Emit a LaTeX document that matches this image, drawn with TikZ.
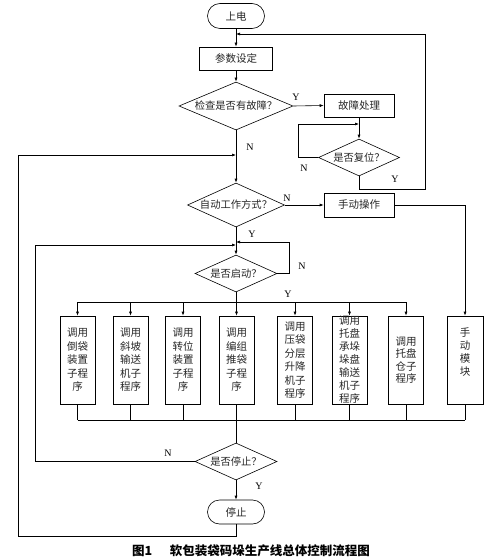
\documentclass[tikz,border=0pt]{standalone}
\usepackage{fontspec}
\setmainfont{Liberation Serif}
\newfontfamily\cjk{Noto Sans CJK SC}
\usetikzlibrary{shapes.geometric,shapes.misc,arrows.meta}
\begin{document}
\begin{tikzpicture}[x=1pt,y=-1pt,
  every path/.style={line width=0.6pt},
  arr/.style={-{Latex[length=4pt,width=3pt]}},
  box/.style={draw, rectangle, inner sep=0pt, text=black!85, font=\cjk\fontsize{10.5}{13.5}\selectfont, align=center},
  vbox/.style={box, minimum width=35pt, minimum height=88pt},
  dia/.style={draw, diamond, inner sep=0pt, text=black!85, font=\cjk\fontsize{10.3}{12}\selectfont},
  term/.style={draw, rounded rectangle, inner sep=0pt, text=black!85, font=\cjk\fontsize{10.5}{12}\selectfont},
  lab/.style={font=\fontsize{10}{12}\selectfont, inner sep=0pt},
]
\useasboundingbox (0,0) rectangle (503,559);
\node[term, minimum width=57pt, minimum height=25pt] (start) at (236,16) {上电};
\node[box, minimum width=73pt, minimum height=23pt] (param) at (236,58.5) {参数设定};
\node[dia, minimum width=114pt, minimum height=48pt, shape aspect=2.375] (chk) at (236,106) {检查是否有故障？};
\node[box, minimum width=70pt, minimum height=23pt] (fault) at (359,105.5) {故障处理};
\node[dia, minimum width=81pt, minimum height=37pt, shape aspect=2.19] (reset) at (359,157.5) {是否复位？};
\node[dia, minimum width=97pt, minimum height=44pt, shape aspect=2.2] (auto) at (236,205) {自动工作方式？};
\node[box, minimum width=70pt, minimum height=24pt] (manual) at (359,205) {手动操作};
\node[dia, minimum width=82pt, minimum height=37pt, shape aspect=2.2] (go) at (236,273.5) {是否启动？};
\node[vbox] (b1) at (77.5,360) {调用\\倒袋\\装置\\子程\\序};
\node[vbox] (b2) at (130.5,360) {调用\\斜坡\\输送\\机子\\程序};
\node[vbox] (b3) at (183,360) {调用\\转位\\装置\\子程\\序};
\node[vbox] (b4) at (236.5,360) {调用\\编组\\推袋\\子程\\序};
\node[vbox] (b5) at (295,360) {调用\\压袋\\分层\\升降\\机子\\程序};
\node[vbox, font=\cjk\fontsize{10.5}{13}\selectfont] (b6) at (349.5,360) {调用\\托盘\\承垛\\垛盘\\输送\\机子\\程序};
\node[vbox, font=\cjk\fontsize{10.5}{12.5}\selectfont] (b7) at (406,360) {调用\\托盘\\仓子\\程序};
\node[vbox, minimum width=36pt] (b8) at (465,360) {};
\node[inner sep=0pt, align=center, text=black!85, font=\cjk\fontsize{10.5}{13}\selectfont] (b8t) at (465,352) {手\\动\\模\\块};
\node[dia, minimum width=82pt, minimum height=37pt, shape aspect=2.2] (stopq) at (236,461.5) {是否停止？};
\node[term, minimum width=57pt, minimum height=24pt] (stop) at (236,512) {停止};
\node[inner sep=0pt, font=\cjk\bfseries\fontsize{12.5}{14}\selectfont] (cap) at (251,551) {图1\hspace{1.4em}软包装袋码垛生产线总体控制流程图};

% labels
\node[lab] (ly1) at (296,97) {Y};
\node[lab] (ln1) at (250,147) {N};
\node[lab] (ln2) at (304,168) {N};
\node[lab] (ly2) at (395,179) {Y};
\node[lab] (ln3) at (287,198) {N};
\node[lab] (ly3) at (252,234) {Y};
\node[lab] (ln4) at (302,266) {N};
\node[lab] (ly4) at (288,294) {Y};
\node[lab] (ln5) at (168,453) {N};
\node[lab] (ly5) at (259,486) {Y};

% coordinates
\coordinate (j1) at (236,34);
\coordinate (j2) at (359,124);
\coordinate (j3) at (236,155);
\coordinate (j4) at (236,245);
\coordinate (j5) at (236,242);
\coordinate (bt) at (236,302);
\coordinate (bb) at (236,420);

% connectors
\draw[arr] (start.south) -- (param.north);
\draw[arr] (param.south) -- (chk.north);
\draw[arr] (chk.east) -- (fault.west);
\draw[arr] (fault.south) -- (reset.north);
\draw[arr] (reset.west) -- (298,157.5) -- (298,124) -- (j2);
\draw[arr] (reset.south) -- (359,189) -- (425,189) -- (425,34) -- (j1);
\draw[arr] (chk.south) -- (auto.north);
\draw[arr] (stop.south) -- (236,536) -- (18,536) -- (18,155) -- (j3);
\draw[arr] (auto.east) -- (manual.west);
\draw[arr] (manual.east) -- (465,205) -- (b8.north);
\draw[arr] (auto.south) -- (go.north);
\draw[arr] (stopq.west) -- (35,461.5) -- (35,245) -- (j4);
\draw[arr] (go.east) -- (289,273.5) -- (289,242) -- (j5);
\draw (go.south) -- (bt);
\draw (77.5,302) -- (406,302);
\foreach \b in {b1,b2,b3,b4,b5,b6,b7}{
  \draw[arr] (\b.north |- bt) -- (\b.north);
  \draw (\b.south) -- (\b.south |- bb);
}
\draw (b8.south) -- (b8.south |- bb);
\draw (77.5,420) -- (465,420);
\draw (bb) -- (stopq.north);
\draw[arr] (stopq.south) -- (stop.north);
\end{tikzpicture}
\end{document}
